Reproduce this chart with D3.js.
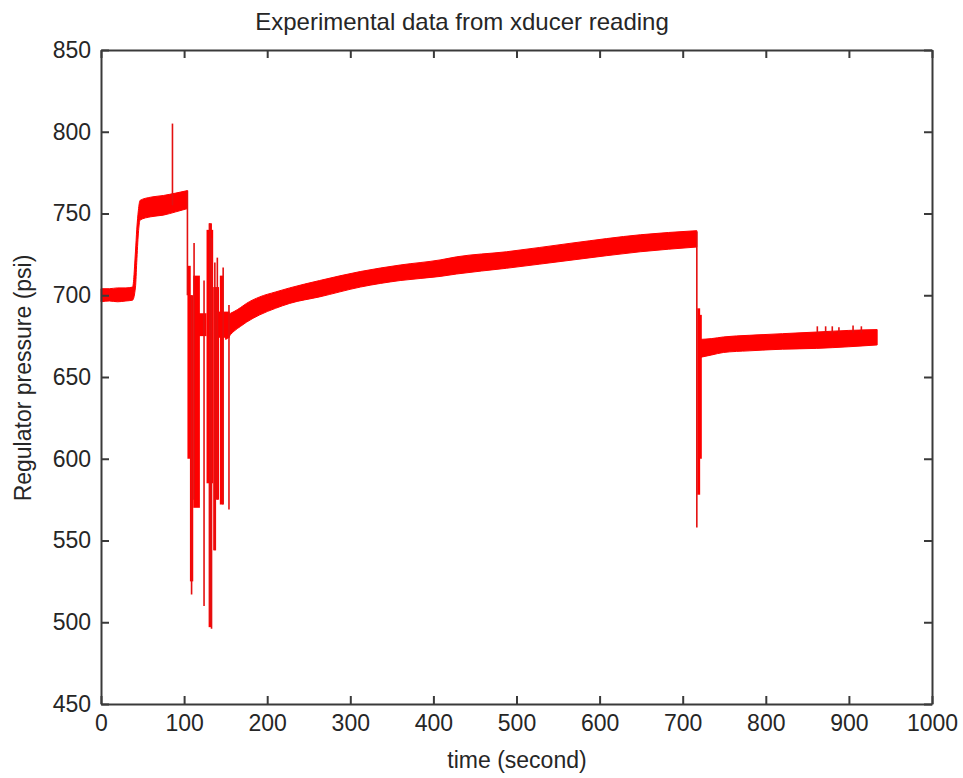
<!DOCTYPE html>
<html><head><meta charset="utf-8">
<script src="https://cdn.jsdelivr.net/npm/d3@7"></script>
<style>
body{margin:0;background:#fff}
text{font-family:"Liberation Sans",Arial,Helvetica,sans-serif;fill:#262626}
</style>
</head><body>
<svg id="chart" width="963" height="778"></svg>
<script>
// ---- tick labels ----
const xTicks = [0,100,200,300,400,500,600,700,800,900,1000];
const yTicks = [450,500,550,600,650,700,750,800,850];

// ---- steady segments: time (s), lower / upper envelope of the noisy reading (psi) ----
const segA_time = [0,10,20,30,38,41.5,43,45,47,60,75,90,104];
const segA_low  = [696,696.5,696,696.5,697,705,720,738,746,748,749,751,753];
const segA_high = [704,704,704.5,704.5,705,727,740,752,758,760,761,762.5,764];

const segB_time = [150,153,156,160,168,175,191,210,227,263,312,360,408,428,488,568,649,717];
const segB_low  = [673,674,676,678,681,683.5,688,692,695,699,705,709,711.5,713,716.5,721.6,726.6,729.5];
const segB_high = [688,688,689,690,692.5,695,699,702,704.5,709,714.5,718.5,721.6,723.5,726.6,732,737,739.5];

const segC_time = [721,735,749,780,820,861,900,934];
const segC_low  = [662,663.5,665,666,667,667.5,668.5,669.6];
const segC_high = [673,673.5,674.5,675.5,676.5,677.5,678.5,679];

// ---- dense oscillation blocks: start time, end time, low, high ----
const blockStart = [104,107,111,117,127,129.5,135,138,141,143,717.5,719];
const blockEnd   = [108,111,119,127,135,133.5,138.5,142,155,147,721,723];
const blockLow   = [600,525,570,675,585,497,544,575,674,572,578,600];
const blockHigh  = [718,700,712,689,740,744,705,705,690,712,692,688];

// ---- single spikes: time, low, high ----
const spikeTime = [86,104,109,112,124,131,133,137,140,147,154,717,862,872,880,888,905,915];
const spikeLow  = [755,700,517,575,510,500,496,544,575,572,569,558,676,676,676,676,677,677];
const spikeHigh = [805,764,700,732,709,744,735,720,723,717,694,739,681,681,681,680.5,681.5,681];

const svg = d3.select("#chart");
const x = d3.scaleLinear().domain([0,1000]).range([101,932]);
const y = d3.scaleLinear().domain([450,850]).range([704,50]);
const red = "#ff0000";

const g = svg.append("g");

function band(t, lo, hi){
  const pts = t.map((d,i)=>({t:d, lo:lo[i], hi:hi[i]}));
  const area = d3.area().x(d=>x(d.t)).y0(d=>y(d.lo)).y1(d=>y(d.hi)).curve(d3.curveMonotoneX);
  g.append("path").attr("d", area(pts)).attr("fill", red)
   .attr("stroke", red).attr("stroke-width", 1);
}
band(segA_time, segA_low, segA_high);
band(segB_time, segB_low, segB_high);
band(segC_time, segC_low, segC_high);

const blocks = blockStart.map((d,i)=>({t0:d, t1:blockEnd[i], lo:blockLow[i], hi:blockHigh[i]}));
g.selectAll("rect.blk").data(blocks).join("rect").attr("class","blk")
  .attr("x", d=>x(d.t0)).attr("width", d=>x(d.t1)-x(d.t0))
  .attr("y", d=>y(d.hi)).attr("height", d=>y(d.lo)-y(d.hi))
  .attr("fill", red);

const spikes = spikeTime.map((d,i)=>({t:d, lo:spikeLow[i], hi:spikeHigh[i]}));
g.selectAll("line.spk").data(spikes).join("line").attr("class","spk")
  .attr("x1", d=>x(d.t)).attr("x2", d=>x(d.t))
  .attr("y1", d=>y(d.lo)).attr("y2", d=>y(d.hi))
  .attr("stroke", "#e41010").attr("stroke-width", 1.6);

// ---- axes (box with inward ticks) ----
const axStyle = sel => {
  sel.selectAll(".domain").attr("stroke","#3a3a3a").attr("stroke-width",2);
  sel.selectAll(".tick line").attr("stroke","#3a3a3a").attr("stroke-width",2);
  sel.selectAll(".tick text").style("font-size","23px").attr("fill","#262626");
};
svg.append("g").attr("transform","translate(0,704)")
  .call(d3.axisBottom(x).tickValues(xTicks).tickFormat(d3.format("d")).tickSizeInner(-8).tickSizeOuter(0).tickPadding(11))
  .call(axStyle);
svg.append("g").attr("transform","translate(0,50)")
  .call(d3.axisTop(x).tickValues(xTicks).tickFormat("").tickSizeInner(-8).tickSizeOuter(0))
  .call(axStyle);
svg.append("g").attr("transform","translate(101,0)")
  .call(d3.axisLeft(y).tickValues(yTicks).tickFormat(d3.format("d")).tickSizeInner(-8).tickSizeOuter(0).tickPadding(10))
  .call(axStyle);
svg.append("g").attr("transform","translate(932,0)")
  .call(d3.axisRight(y).tickValues(yTicks).tickFormat("").tickSizeInner(-8).tickSizeOuter(0))
  .call(axStyle);
svg.selectAll(".domain").attr("fill","none");

// ---- titles ----
svg.append("text").attr("x",462).attr("y",30).attr("text-anchor","middle")
  .style("font-size","24px").text("Experimental data from xducer reading");
svg.append("text").attr("x",517).attr("y",768).attr("text-anchor","middle")
  .style("font-size","23px").text("time (second)");
svg.append("text").attr("transform","translate(31,378) rotate(-90)").attr("text-anchor","middle")
  .style("font-size","23px").text("Regulator pressure (psi)");
</script>
</body></html>
